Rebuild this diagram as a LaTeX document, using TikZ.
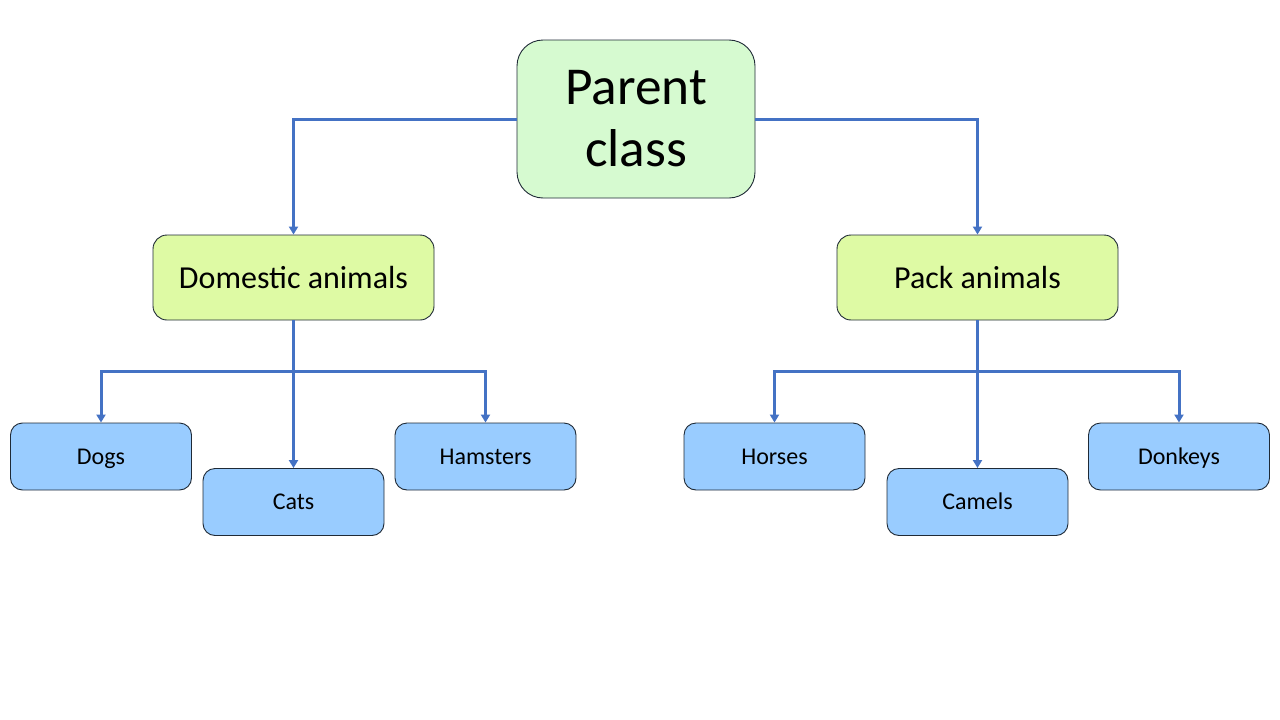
\documentclass[tikz,border=0pt]{standalone}
\usepackage{fontspec}
\setmainfont{Carlito}
\usetikzlibrary{arrows.meta}
\definecolor{linec}{HTML}{4472C4}
\definecolor{edgec}{HTML}{1F2A36}
\definecolor{parentfill}{HTML}{D6FAD0}
\definecolor{midfill}{HTML}{DEFAA4}
\definecolor{leaffill}{HTML}{99CCFF}
\tikzset{
  box/.style={draw=edgec, line width=0.9pt, rectangle, inner sep=0pt, text=black},
  parentbox/.style={box, fill=parentfill, rounded corners=26pt, minimum width=238pt, minimum height=158pt, font=\fontsize{53.3}{62}\selectfont},
  midbox/.style={box, fill=midfill, rounded corners=14pt, minimum width=281pt, minimum height=85pt, text height=25pt, text depth=3pt, font=\fontsize{32}{38}\selectfont},
  leafbox/.style={box, fill=leaffill, rounded corners=12pt, minimum width=181pt, minimum height=67pt, text height=18pt, text depth=3pt, font=\fontsize{24}{28}\selectfont},
  conn/.style={draw=linec, line width=3pt, -{Triangle[length=8pt,width=9pt]}},
  plain/.style={draw=linec, line width=3pt}
}
\begin{document}
\begin{tikzpicture}[x=1pt,y=-1pt]
\useasboundingbox (0,0) rectangle (1280,720);
\node[parentbox] (parent) at (636,119) {\raisebox{-4pt}{\parbox{200pt}{\centering Parent\\class}}};
\node[midbox] (dom) at (293.5,277.5) {Domestic animals};
\node[midbox] (pack) at (977.5,277.5) {Pack animals};
\node[leafbox] (dogs) at (101,456.5) {Dogs};
\node[leafbox] (cats) at (293.5,502) {Cats};
\node[leafbox] (ham) at (485.5,456.5) {Hamsters};
\node[leafbox] (horses) at (774.5,456.5) {Horses};
\node[leafbox] (camels) at (977.5,502) {Camels};
\node[leafbox] (donk) at (1179,456.5) {Donkeys};
\coordinate (dj) at (293.5,371);
\coordinate (pj) at (977.5,371);
\draw[conn] (parent.west) -| (dom.north);
\draw[conn] (parent.east) -| (pack.north);
\draw[plain] (dom.south) -- (dj);
\draw[conn] (dj) -| (dogs.north);
\draw[conn] (dj) -| (ham.north);
\draw[conn] (dj) -- (cats.north);
\draw[plain] (pack.south) -- (pj);
\draw[conn] (pj) -| (horses.north);
\draw[conn] (pj) -| (donk.north);
\draw[conn] (pj) -- (camels.north);
\end{tikzpicture}
\end{document}
